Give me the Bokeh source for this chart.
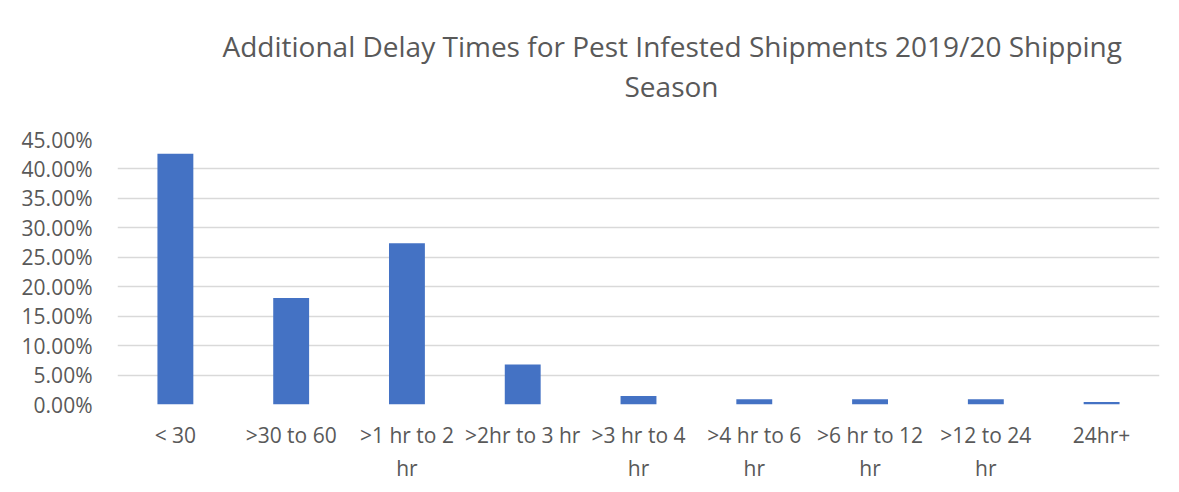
from bokeh.plotting import figure
from bokeh.models import ColumnDataSource, NumeralTickFormatter, FixedTicker, Title, Range1d
from bokeh.embed import file_html
from bokeh.resources import INLINE

title_lines = ["Additional Delay Times for Pest Infested Shipments 2019/20 Shipping", "Season"]
categories = ["< 30", ">30 to 60", ">1 hr to 2\nhr", ">2hr to 3 hr", ">3 hr to 4\nhr",
              ">4 hr to 6\nhr", ">6 hr to 12\nhr", ">12 to 24\nhr", "24hr+"]
shares = [0.426, 0.181, 0.274, 0.068, 0.0146, 0.009, 0.009, 0.009, 0.0044]
y_ticks = [0.0, 0.05, 0.10, 0.15, 0.20, 0.25, 0.30, 0.35, 0.40, 0.45]

FONT = "Open Sans"
TXT = "#595959"
GRID = "#D9D9D9"
BAR = "#4472C4"

W, H = 1179, 492
p = figure(x_range=categories, y_range=Range1d(0, 0.45), width=W, height=H,
           output_backend="svg", toolbar_location=None,
           min_border_left=117, min_border_right=20, min_border_top=139, min_border_bottom=88)

src = ColumnDataSource(dict(cat=categories, val=shares))
p.vbar(x="cat", top="val", width=0.31, source=src, fill_color=BAR, line_color=None)

p.outline_line_color = None
p.background_fill_color = "white"
p.border_fill_color = "white"

p.xgrid.grid_line_color = None
p.ygrid.grid_line_color = GRID
p.ygrid.grid_line_width = 1.5
p.yaxis.ticker = FixedTicker(ticks=y_ticks)
p.yaxis.formatter = NumeralTickFormatter(format="0.00%")

for ax in (p.xaxis[0], p.yaxis[0]):
    ax.axis_line_color = None
    ax.major_tick_line_color = None
    ax.minor_tick_line_color = None
    ax.major_label_text_font = FONT
    ax.major_label_text_font_size = "21px"
    ax.major_label_text_color = TXT
p.yaxis.major_label_standoff = 19
p.xaxis.major_label_standoff = 10

# spacer between frame and title block (tiny blank title), then the two title lines;
# each later-added Title sits farther from the frame
p.add_layout(Title(text=" ", text_font_size="1px", standoff=32), "above")
for txt, off, so in [(title_lines[1], 507, 0), (title_lines[0], 105, 0)]:
    p.add_layout(Title(text=txt, align="left", offset=off, standoff=so, text_font=FONT,
                       text_font_size="28px", text_font_style="normal", text_color=TXT), "above")

open("out.html", "w").write(file_html(p, INLINE))
